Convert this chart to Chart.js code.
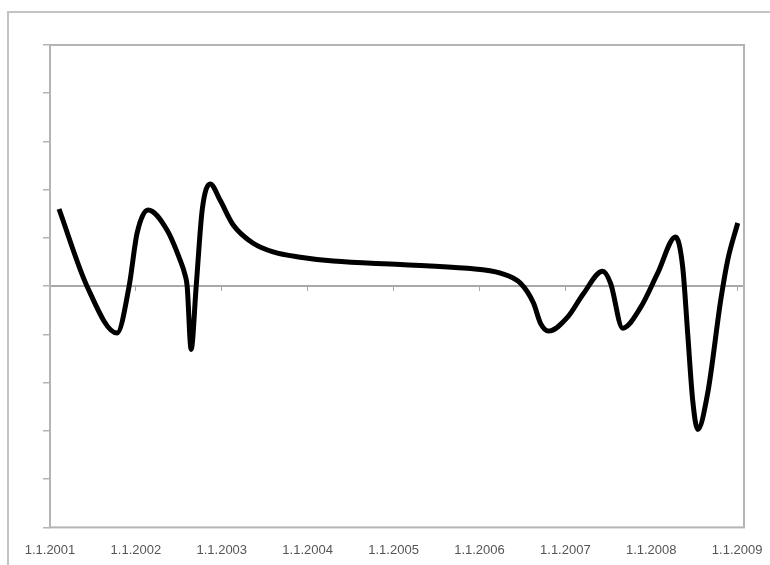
<!DOCTYPE html>
<html lang="en">
<head>
  <meta charset="UTF-8">
  <title>Curve 2001-2009</title>
  <script src="https://cdn.jsdelivr.net/npm/chart.js"></script>
  <style>
    html, body {
      margin: 0;
      padding: 0;
      background: #fff;
    }
    .wrap {
      position: relative;
      width: 770px;
      height: 565px;
      overflow: hidden;
      background: #fff;
    }
    .frame {
      position: absolute;
      left: 7px;
      top: 11px;
      width: 820px;
      height: 620px;
      border: 2px solid #c4c4c4;
    }
    .chart-box {
      position: absolute;
      left: 0;
      top: 0;
      width: 770px;
      height: 565px;
    }
  </style>
</head>
<body>
  <div class="wrap">
    <div class="frame"></div>
    <div class="chart-box">
      <canvas id="curveChart"></canvas>
    </div>
  </div>

  <script>
    // tick years on the date axis
    const tickYears = [2001, 2002, 2003, 2004, 2005, 2006, 2007, 2008, 2009];
    // y axis ticks (no labels shown)
    const yTicks = [-5, -4, -3, -2, -1, 0, 1, 2, 3, 4, 5];

    // curve points: time in years, value
    const xValues = [
      2001.105, 2001.431, 2001.781, 2001.921, 2002.014, 2002.142, 2002.364,
      2002.515, 2002.573, 2002.597, 2002.643, 2002.702, 2002.772, 2002.865,
      2002.981, 2003.133, 2003.366, 2003.599, 2003.914, 2004.298, 2005.079,
      2005.860, 2006.245, 2006.478, 2006.629, 2006.711, 2006.804, 2007.026,
      2007.212, 2007.434, 2007.527, 2007.667, 2007.876, 2008.075, 2008.284,
      2008.366, 2008.424, 2008.483, 2008.541, 2008.657, 2008.809, 2008.890,
      2009.007
    ];
    const yValues = [
      1.60, 0.00, -0.97, 0.00, 1.10, 1.58, 1.16,
      0.54, 0.23, 0.00, -1.31, 0.00, 1.58, 2.12,
      1.78, 1.27, 0.89, 0.71, 0.60, 0.52, 0.45,
      0.37, 0.27, 0.06, -0.35, -0.77, -0.93, -0.64,
      -0.15, 0.31, 0.06, -0.87, -0.44, 0.27, 1.02,
      0.40, -0.97, -2.37, -2.97, -2.22, -0.29, 0.54,
      1.31
    ];

    const points = xValues.map((x, i) => ({ x: x, y: yValues[i] }));

    const plotBorder = {
      id: 'plotBorder',
      beforeDatasetsDraw(chart) {
        const { ctx, chartArea } = chart;
        ctx.save();
        ctx.strokeStyle = '#b4b4b4';
        ctx.lineWidth = 2;
        ctx.strokeRect(chartArea.left, chartArea.top,
          chartArea.right - chartArea.left, chartArea.bottom - chartArea.top);
        ctx.restore();
      }
    };

    new Chart(document.getElementById('curveChart'), {
      type: 'line',
      data: {
        datasets: [{
          data: points,
          borderColor: '#000',
          borderWidth: 5,
          pointRadius: 0,
          fill: false,
          cubicInterpolationMode: 'monotone'
        }]
      },
      options: {
        responsive: true,
        maintainAspectRatio: false,
        animation: false,
        layout: {
          padding: { left: 43, top: 45, right: 26, bottom: 3 }
        },
        plugins: {
          legend: { display: false },
          tooltip: { enabled: false }
        },
        scales: {
          x: {
            type: 'linear',
            position: 'bottom',
            min: 2001,
            max: 2009.08,
            afterBuildTicks: scale => {
              scale.ticks = tickYears.map(v => ({ value: v }));
            },
            grid: { display: false, drawTicks: true, tickLength: 11 },
            border: { display: false },
            ticks: {
              padding: 4,
              maxRotation: 0,
              autoSkip: false,
              color: '#555',
              font: { family: 'Arial, "Liberation Sans", sans-serif', size: 13 },
              callback: value => '1.1.' + value
            }
          },
          x2: {
            type: 'linear',
            axis: 'x',
            position: { y: 0 },
            min: 2001,
            max: 2009.08,
            afterBuildTicks: scale => {
              scale.ticks = tickYears.map(v => ({ value: v }));
            },
            grid: { drawOnChartArea: false, drawTicks: true, tickLength: 4, color: '#aaa', lineWidth: 1 },
            border: { display: true, color: '#a8a8a8', width: 2 },
            ticks: { display: false }
          },
          y: {
            min: -5,
            max: 5,
            afterBuildTicks: scale => {
              scale.ticks = yTicks.map(v => ({ value: v }));
            },
            grid: { drawOnChartArea: false, drawTicks: true, tickLength: 7, color: '#b4b4b4', lineWidth: 1.5 },
            border: { display: false },
            ticks: { display: false }
          }
        }
      },
      plugins: [plotBorder]
    });
  </script>
</body>
</html>
